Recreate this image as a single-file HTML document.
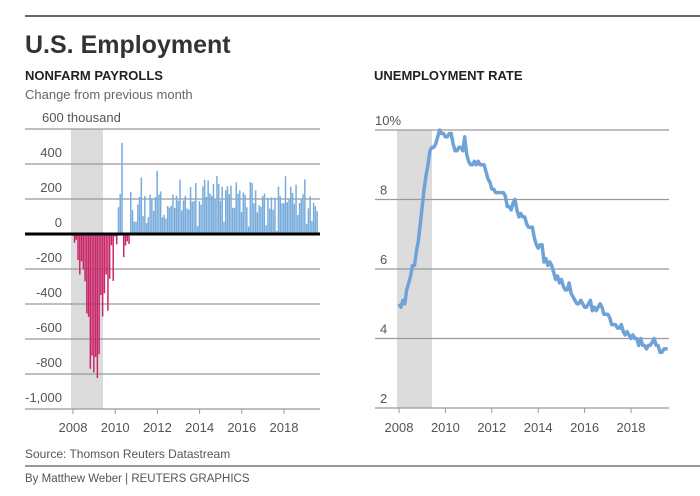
<!DOCTYPE html>
<html><head><meta charset="utf-8"><style>
body{margin:0;background:#fff;width:700px;height:491px;overflow:hidden;font-family:"Liberation Sans",sans-serif}
</style></head><body>
<svg id="s" width="700" height="491" xmlns="http://www.w3.org/2000/svg" font-family="Liberation Sans, sans-serif">
<line x1="25" y1="16" x2="700" y2="16" stroke="#333" stroke-width="1.5"/>
<text x="25" y="53" font-size="25" font-weight="bold" fill="#333">U.S. Employment</text>
<text x="25" y="80" font-size="13" font-weight="bold" fill="#222">NONFARM PAYROLLS</text>
<text x="25" y="99" font-size="13" fill="#666">Change from previous month</text>
<text x="374" y="80" font-size="13" font-weight="bold" fill="#222">UNEMPLOYMENT RATE</text>
<rect x="71" y="129" width="32" height="280" fill="#dcdcdc"/>
<rect x="397" y="130" width="35" height="278" fill="#dcdcdc"/>
<g id="g1"></g><g id="g2"></g>
<text x="25" y="458" font-size="12" fill="#555">Source: Thomson Reuters Datastream</text>
<line x1="25" y1="466" x2="700" y2="466" stroke="#333" stroke-width="1"/>
<text x="25" y="482" font-size="11.5" fill="#555">By Matthew Weber | REUTERS GRAPHICS</text>
</svg>
<script>
var NS="http://www.w3.org/2000/svg";
function el(p,t,a,txt){var e=document.createElementNS(NS,t);for(var k in a)e.setAttribute(k,a[k]);if(txt!=null)e.textContent=txt;document.getElementById(p).appendChild(e);return e;}
var lab={600:"600 thousand",400:"400",200:"200",0:"0","-200":"-200","-400":"-400","-600":"-600","-800":"-800","-1000":"-1,000"};
for(var v=600;v>=-1000;v-=200){var y=234-v*35/200;
 if(v!=0)el("g1","line",{x1:25,x2:320,y1:y,y2:y,stroke:"#999","stroke-width":1.2});
 el("g1","text",{x:v==600?42:62,y:y-7,"font-size":13,fill:"#555","text-anchor":v==600?"start":"end"},lab[v]);}
var P=[-10,-50,-33,-149,-231,-157,-201,-270,-454,-473,-770,-695,
-791,-703,-823,-687,-349,-471,-339,-232,-439,-256,-64,-268,
-14,-59,153,229,521,-132,-66,-42,-57,241,137,71,
70,168,212,322,102,217,62,96,225,203,132,211,
361,226,243,96,110,88,160,150,161,225,149,219,
190,311,135,192,218,146,140,269,185,189,291,45,
187,168,272,310,213,306,232,218,286,200,331,286,
190,271,70,251,273,228,277,150,149,295,231,249,
126,237,225,153,43,297,291,176,249,124,164,155,
216,232,50,207,145,210,138,208,18,271,216,175,
176,330,182,196,270,235,173,282,108,177,196,227,
312,56,147,216,75,178,159,130];
var px=(284-73)/10/12;
P.forEach(function(v,i){var x=72+i*px;var y0=234,y=234-v*35/200;
 el("g1","rect",{x:x,y:Math.min(y,y0),width:1.5,height:Math.abs(y-y0),fill:v<0?"#c8286a":"#78acdc"});});
el("g1","line",{x1:25,x2:320,y1:234,y2:234,stroke:"#000","stroke-width":3});
[2008,2010,2012,2014,2016,2018].forEach(function(yr,i){var x=73+i*(284-73)/5;
 el("g1","line",{x1:x,x2:x,y1:409,y2:414,stroke:"#999"});
 el("g1","text",{x:x,y:432,"font-size":13,fill:"#555","text-anchor":"middle"},yr);});
[10,8,6,4,2].forEach(function(v){var y=408-(v-2)*278/8;
 el("g2","line",{x1:375,x2:669,y1:y,y2:y,stroke:"#999","stroke-width":1.2});
 el("g2","text",{x:v==10?375:380,y:y-5,"font-size":13,fill:"#555"},v==10?"10%":v);});
[2008,2010,2012,2014,2016,2018].forEach(function(yr,i){var x=399+i*(631-399)/5;
 el("g2","line",{x1:x,x2:x,y1:408,y2:413,stroke:"#999"});
 el("g2","text",{x:x,y:432,"font-size":13,fill:"#555","text-anchor":"middle"},yr);});
var U=[5.0,4.9,5.1,5.0,5.4,5.6,5.8,6.1,6.1,6.5,6.8,7.3,
7.8,8.3,8.7,9.0,9.4,9.5,9.5,9.6,9.8,10.0,9.9,9.9,
9.8,9.8,9.9,9.9,9.6,9.4,9.4,9.5,9.5,9.4,9.8,9.3,
9.1,9.0,9.0,9.1,9.0,9.1,9.0,9.0,9.0,8.8,8.6,8.5,
8.3,8.3,8.2,8.2,8.2,8.2,8.2,8.1,7.8,7.8,7.7,7.9,
8.0,7.7,7.5,7.6,7.5,7.5,7.3,7.2,7.2,7.2,6.9,6.7,
6.6,6.7,6.7,6.2,6.3,6.1,6.2,6.1,5.9,5.7,5.8,5.6,
5.7,5.5,5.4,5.4,5.6,5.3,5.2,5.1,5.0,5.0,5.1,5.0,
4.9,4.9,5.0,5.1,4.8,4.9,4.8,4.9,5.0,4.9,4.7,4.7,
4.7,4.6,4.4,4.4,4.4,4.3,4.3,4.4,4.2,4.1,4.2,4.1,
4.0,4.1,4.0,4.0,3.8,4.0,3.8,3.8,3.7,3.8,3.8,3.9,
4.0,3.8,3.8,3.6,3.6,3.7,3.7,3.7];
var ux=(631-399)/10/12;
var d=U.map(function(v,i){return (i?"L":"M")+(399+i*ux).toFixed(1)+","+(408-(v-2)*278/8).toFixed(1);}).join("");
el("g2","path",{d:d,fill:"none",stroke:"#6fa3d8","stroke-width":3.5,"stroke-linejoin":"round"});
</script>
</body></html>
